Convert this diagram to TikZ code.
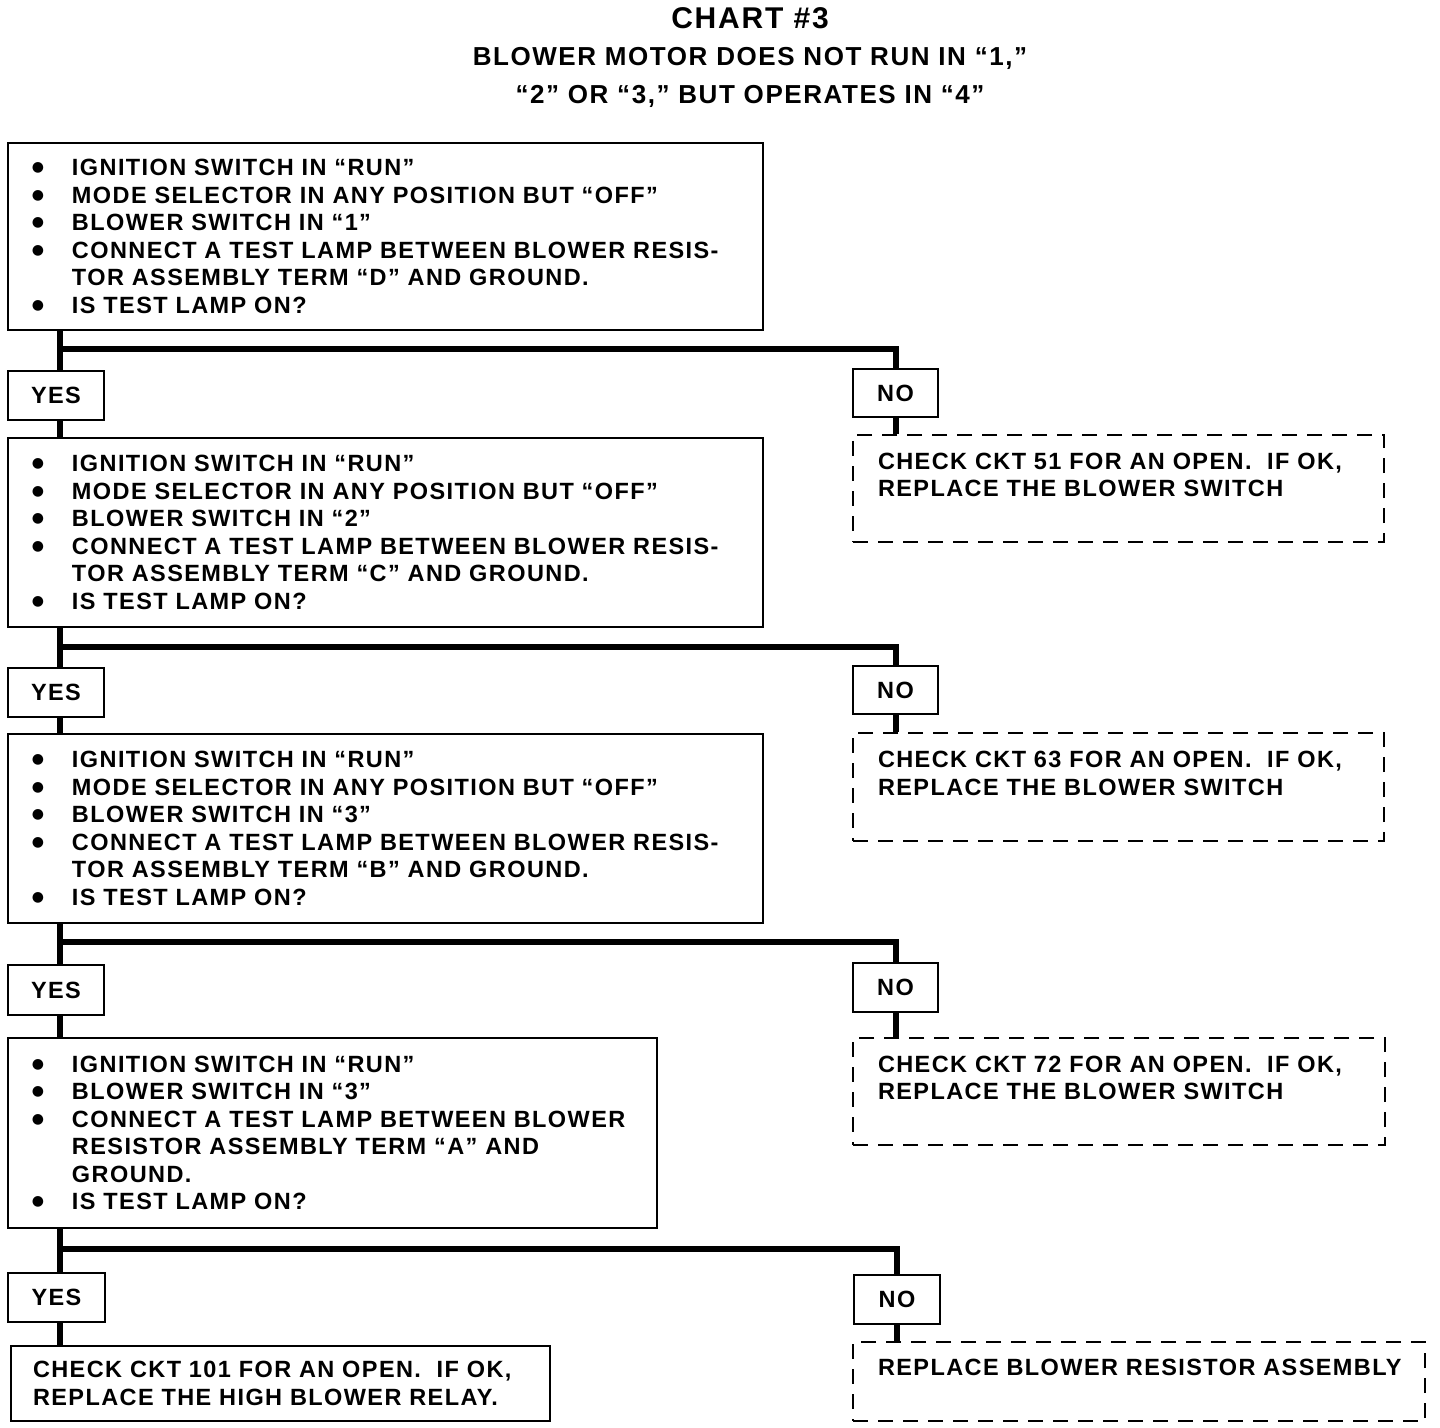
\documentclass[tikz,border=0pt]{standalone}
\usepackage{fontspec}
\newfontfamily\chartfont{Liberation Sans}[LetterSpace=6]
\newfontfamily\dotfont{DejaVu Sans}
\newcommand\bodyf{\chartfont\bfseries\fontsize{11.75}{13.75}\selectfont}
\newcommand\bigdot{\raisebox{2pt}{\dotfont\fontsize{7}{7}\selectfont ●}}
\newcommand\bitm[1]{\makebox[20pt][l]{\bigdot}\mbox{#1}}
\newcommand\bcnt[1]{\hspace*{20pt}\mbox{#1}}
\begin{document}
\begin{tikzpicture}[x=0.5pt,y=-0.5pt]
\tikzset{
  qbox/.style={draw, line width=1pt, inner ysep=0pt, inner xsep=12pt, align=left, anchor=north west, font=\bodyf},
  dbox/.style={qbox, dash pattern=on 7.5pt off 5pt},
  ans/.style={draw, line width=1pt, anchor=north west, font=\bodyf, inner sep=0pt},
  conn/.style={line width=3pt},
  ttl/.style={inner sep=0pt, font=\chartfont\bfseries\fontsize{15}{17}\selectfont},
  sttl/.style={inner sep=0pt, font=\chartfont\bfseries\fontsize{13}{15}\selectfont},
}
\useasboundingbox (0,0) rectangle (1440,1428);

% titles
\node[ttl] (title) at (750,18) {CHART \#3};
\node[sttl] (sub1) at (750,58) {BLOWER MOTOR DOES NOT RUN IN “1,”};
\node[sttl] (sub2) at (750,96) {“2” OR “3,” BUT OPERATES IN “4”};

% question boxes
\node[qbox, text width=353.5pt, minimum height=93.5pt] (q1) at (7,142) {%
\bitm{IGNITION SWITCH IN “RUN”}\\
\bitm{MODE SELECTOR IN ANY POSITION BUT “OFF”}\\
\bitm{BLOWER SWITCH IN “1”}\\
\bitm{CONNECT A TEST LAMP BETWEEN BLOWER RESIS-}\\
\bcnt{TOR ASSEMBLY TERM “D” AND GROUND.}\\
\bitm{IS TEST LAMP ON?}};

\node[qbox, text width=353.5pt, minimum height=94.5pt] (q2) at (7,437) {%
\bitm{IGNITION SWITCH IN “RUN”}\\
\bitm{MODE SELECTOR IN ANY POSITION BUT “OFF”}\\
\bitm{BLOWER SWITCH IN “2”}\\
\bitm{CONNECT A TEST LAMP BETWEEN BLOWER RESIS-}\\
\bcnt{TOR ASSEMBLY TERM “C” AND GROUND.}\\
\bitm{IS TEST LAMP ON?}};

\node[qbox, text width=353.5pt, minimum height=94.5pt] (q3) at (7,733) {%
\bitm{IGNITION SWITCH IN “RUN”}\\
\bitm{MODE SELECTOR IN ANY POSITION BUT “OFF”}\\
\bitm{BLOWER SWITCH IN “3”}\\
\bitm{CONNECT A TEST LAMP BETWEEN BLOWER RESIS-}\\
\bcnt{TOR ASSEMBLY TERM “B” AND GROUND.}\\
\bitm{IS TEST LAMP ON?}};

\node[qbox, text width=300.5pt, minimum height=95pt] (q4) at (7,1037) {%
\bitm{IGNITION SWITCH IN “RUN”}\\
\bitm{BLOWER SWITCH IN “3”}\\
\bitm{CONNECT A TEST LAMP BETWEEN BLOWER}\\
\bcnt{RESISTOR ASSEMBLY TERM “A” AND}\\
\bcnt{GROUND.}\\
\bitm{IS TEST LAMP ON?}};

\node[qbox, inner xsep=11pt, text width=247.5pt, minimum height=37.5pt] (fin) at (10,1345) {%
\mbox{CHECK CKT 101 FOR AN OPEN.\ \ IF OK,}\\
\mbox{REPLACE THE HIGH BLOWER RELAY.}};

% dashed result boxes
\node[dbox, inner xsep=12.5pt, text width=240.5pt, minimum height=53.5pt] (d1) at (852,434) {%
\mbox{CHECK CKT 51 FOR AN OPEN.\ \ IF OK,}\\
\mbox{REPLACE THE BLOWER SWITCH}\\ \mbox{}};
\node[dbox, inner xsep=12.5pt, text width=240.5pt, minimum height=54pt] (d2) at (852,732) {%
\mbox{CHECK CKT 63 FOR AN OPEN.\ \ IF OK,}\\
\mbox{REPLACE THE BLOWER SWITCH}\\ \mbox{}};
\node[dbox, inner xsep=12.5pt, text width=241pt, minimum height=53.5pt] (d3) at (852,1037) {%
\mbox{CHECK CKT 72 FOR AN OPEN.\ \ IF OK,}\\
\mbox{REPLACE THE BLOWER SWITCH}\\ \mbox{}};
\node[dbox, inner xsep=12.5pt, text width=261pt, minimum height=39.5pt] (d4) at (852,1341) {%
\mbox{REPLACE BLOWER RESISTOR ASSEMBLY}\\ \mbox{}};

% answer boxes
\node[ans, minimum width=48pt, minimum height=24.5pt] (y1) at (7,370) {YES};
\node[ans, minimum width=42.5pt, minimum height=24pt] (n1) at (852,368) {NO};
\node[ans, minimum width=48pt, minimum height=24.5pt] (y2) at (7,667) {YES};
\node[ans, minimum width=42.5pt, minimum height=24pt] (n2) at (852,665) {NO};
\node[ans, minimum width=48pt, minimum height=25pt] (y3) at (7,964) {YES};
\node[ans, minimum width=42.5pt, minimum height=24.5pt] (n3) at (852,962) {NO};
\node[ans, minimum width=48.5pt, minimum height=24.5pt] (y4) at (7,1272) {YES};
\node[ans, minimum width=43pt, minimum height=24.5pt] (n4) at (853,1274) {NO};

% junctions
\coordinate (j1) at (60,349);
\coordinate (j2) at (60,647);
\coordinate (j3) at (60,942);
\coordinate (j4) at (60,1249);

% connectors
\draw[conn] (q1.south -| j1) -- (y1.north -| j1);
\draw[conn] (j1) -| (n1.north);
\draw[conn] (y1.south -| j1) -- (q2.north -| j1);
\draw[conn] (n1.south) -- (n1.south |- d1.north);

\draw[conn] (q2.south -| j2) -- (y2.north -| j2);
\draw[conn] (j2) -| (n2.north);
\draw[conn] (y2.south -| j2) -- (q3.north -| j2);
\draw[conn] (n2.south) -- (n2.south |- d2.north);

\draw[conn] (q3.south -| j3) -- (y3.north -| j3);
\draw[conn] (j3) -| (n3.north);
\draw[conn] (y3.south -| j3) -- (q4.north -| j3);
\draw[conn] (n3.south) -- (n3.south |- d3.north);

\draw[conn] (q4.south -| j4) -- (y4.north -| j4);
\draw[conn] (j4) -| (n4.north);
\draw[conn] (y4.south -| j4) -- (fin.north -| j4);
\draw[conn] (n4.south) -- (n4.south |- d4.north);
\end{tikzpicture}
\end{document}
